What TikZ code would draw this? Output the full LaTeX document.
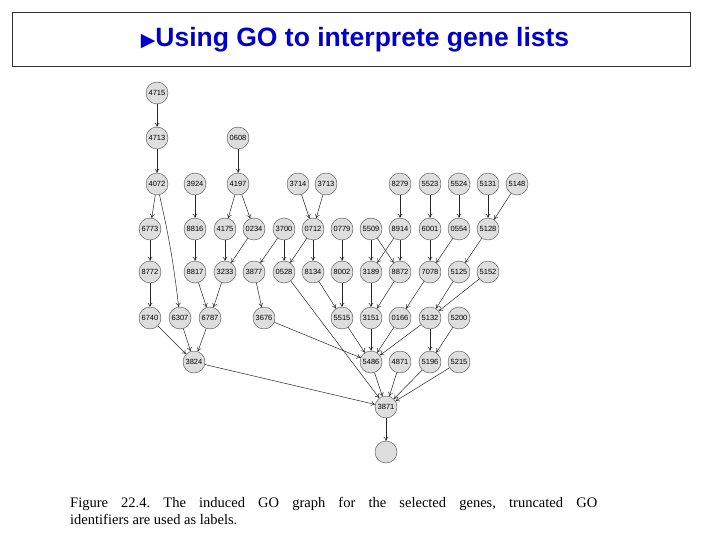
\documentclass[tikz,border=0pt]{standalone}
\usepackage{fontspec}
\usetikzlibrary{arrows.meta}
\setmainfont{Liberation Serif}
\setsansfont{Liberation Sans}
\newfontfamily\symfont{DejaVu Sans}
\begin{document}
\begin{tikzpicture}[x=1pt,y=-1pt,
  go/.style={circle,draw=black!70,fill=black!13,minimum size=22pt,inner sep=0pt,font=\sffamily\fontsize{7.5}{7.5}\selectfont},
  ar/.style={-{To[length=4pt,width=5pt]},black!85,line width=0.5pt}]
\useasboundingbox (0,0) rectangle (720,540);
\draw[black!80,line width=0.6pt] (12,12) rectangle (690,66);
\node[font=\sffamily\bfseries\fontsize{26.5}{30}\selectfont,text=blue!80!black] (title) at (355,40) {{\symfont\fontsize{19}{19}\selectfont ▶}Using GO to interprete gene lists};
\foreach \n/\x/\y in {4715/157/93, 4713/157/138, 0608/238/138,
 4072/157/184, 3924/195/184, 4197/238/184, 3714/298/184, 3713/326/184, 8279/400/184, 5523/430/184, 5524/459/184, 5131/488/184, 5148/517/184,
 6773/150/229, 8816/195/229, 4175/225/229, 0234/254/229, 3700/284/229, 0712/313/229, 0779/342/229, 5509/371/229, 8914/400/229, 6001/430/229, 0554/459/229, 5128/488/229,
 8772/150/272, 8817/195/272, 3233/225/272, 3877/254/272, 0528/284/272, 8134/313/272, 8002/342/272, 3189/371/272, 8872/400/272, 7078/430/272, 5125/459/272, 5152/488/272,
 6740/150/318, 6307/180/318, 6787/210/318, 3676/264/318, 5515/342/318, 3151/371/318, 0166/400/318, 5132/430/318, 5200/459/318,
 3824/194/362, 5486/371/362, 4871/400/362, 5196/430/362, 5215/459/362,
 3871/386/407}
  \node[go] (n\n) at (\x,\y) {\n};
\node[go] (nend) at (386,452) {};
\foreach \a/\b in {4715/4713, 4713/4072, 0608/4197,
 4072/6773, 3924/8816, 4197/4175, 4197/0234, 3714/0712, 3713/0712, 8279/8914, 5523/6001, 5524/0554, 5131/5128, 5148/5128,
 6773/8772, 8816/8817, 4175/3233, 0234/3233, 3700/3877, 3700/0528, 0712/0528, 0712/8134, 0779/8002, 5509/3189, 5509/8872, 8914/3189, 8914/8872, 6001/7078, 0554/7078, 5128/5125,
 8772/6740, 8817/6787, 3233/6787, 3877/3676, 0528/3871, 8134/5515, 8002/5515, 3189/3151, 8872/3151, 7078/0166, 5125/5132, 5152/5132,
 6740/3824, 6307/3824, 6787/3824, 3676/5486, 5515/5486, 3151/5486, 0166/5486, 5132/5486, 5132/5196, 5200/5196,
 3824/3871, 5486/3871, 4871/3871, 5196/3871, 5215/3871}
  \draw[ar] (n\a) -- (n\b);
\draw[ar] (n4072) to[bend left=3] (n6307);
\draw[ar] (n3871) -- (nend);
\node[anchor=north west,text width=527pt,align=justify,inner sep=0pt,font=\fontsize{14.5}{17}\selectfont\frenchspacing] (cap) at (70,497)
 {Figure 22.4. The induced GO graph for the selected genes, truncated GO\linebreak identifiers are used as labels.};
\end{tikzpicture}
\end{document}
